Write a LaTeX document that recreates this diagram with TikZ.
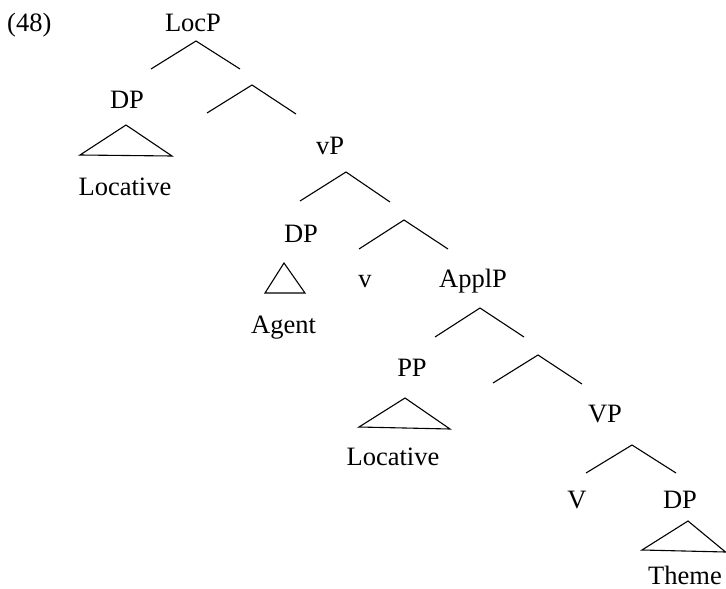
\documentclass[tikz,border=0pt]{standalone}
\usepackage{fontspec}
\setmainfont{Liberation Serif}
\begin{document}
\begin{tikzpicture}[x=1pt,y=-1pt,
  lbl/.style={inner sep=0pt,anchor=base,font=\fontsize{26.5}{30}\selectfont},
  lblw/.style={lbl,anchor=base west},
  branch/.style={line width=1.1pt,line join=miter},
  roof/.style={line width=1.1pt,line join=miter}]
\useasboundingbox (0,0) rectangle (726,589);
% labels
\node[lblw] (ex) at (7,31) {(48)};
\node[lbl] (locp) at (193,31) {LocP};
\node[lbl] (dp1) at (127,108) {DP};
\node[lbl] (loc1) at (125,195) {Locative};
\node[lbl] (vp) at (330,154) {vP};
\node[lbl] (dp2) at (301,242) {DP};
\node[lbl] (v) at (365,287) {v};
\node[lblw] (applp) at (439,287) {ApplP};
\node[lbl] (agent) at (283.5,333) {Agent};
\node[lbl] (pp) at (412,376) {PP};
\node[lbl] (loc2) at (393,465) {Locative};
\node[lbl] (VP) at (605,422) {VP};
\node[lbl] (V) at (577,508) {V};
\node[lbl] (dp3) at (680,508) {DP};
\node[lbl] (theme) at (685,584) {Theme};
% branch coordinates
\coordinate (a1) at (196,41);  \coordinate (l1) at (151,69);  \coordinate (r1) at (240,69);
\coordinate (a2) at (252,85);  \coordinate (l2) at (207,113); \coordinate (r2) at (296,114);
\coordinate (a3) at (346,172); \coordinate (l3) at (300,201); \coordinate (r3) at (390,202);
\coordinate (a4) at (404,220); \coordinate (l4) at (359,249); \coordinate (r4) at (448,249);
\coordinate (a5) at (480,308); \coordinate (l5) at (435,337); \coordinate (r5) at (524,337);
\coordinate (a6) at (538,355); \coordinate (l6) at (493,383); \coordinate (r6) at (582,384);
\coordinate (a7) at (632,445); \coordinate (l7) at (586,473); \coordinate (r7) at (676,473);
\foreach \i in {1,...,7} {\draw[branch] (l\i) -- (a\i) -- (r\i);}
% roofs
\coordinate (t1a) at (126,125); \coordinate (t1l) at (80,155);  \coordinate (t1r) at (172,156);
\coordinate (t2a) at (284,263); \coordinate (t2l) at (265,293); \coordinate (t2r) at (305,293);
\coordinate (t3a) at (405,398); \coordinate (t3l) at (359,427); \coordinate (t3r) at (450,429);
\coordinate (t4a) at (688,521); \coordinate (t4l) at (642,550); \coordinate (t4r) at (725.5,552);
\foreach \i in {1,...,4} {\draw[roof] (t\i a) -- (t\i l) -- (t\i r) -- cycle;}
\end{tikzpicture}
\end{document}
